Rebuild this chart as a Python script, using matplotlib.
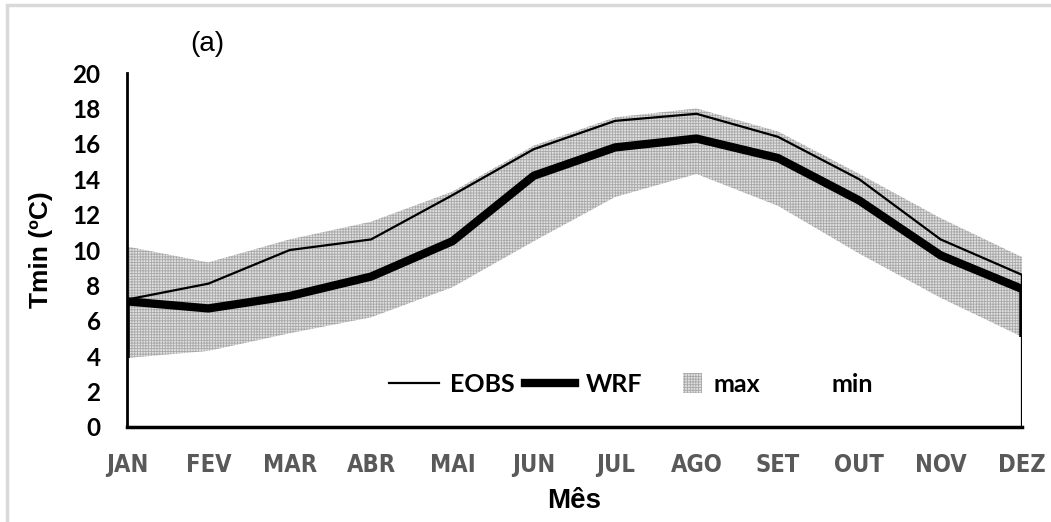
import numpy as np
import matplotlib
matplotlib.use('Agg')
from matplotlib import pyplot as plt
from matplotlib.patches import Rectangle, Patch
from matplotlib.lines import Line2D
from matplotlib.legend_handler import HandlerPatch

meses = ['JAN', 'FEV', 'MAR', 'ABR', 'MAI', 'JUN', 'JUL', 'AGO', 'SET', 'OUT', 'NOV', 'DEZ']
eobs = [7.2, 8.1, 10.0, 10.6, 13.1, 15.7, 17.3, 17.7, 16.4, 14.0, 10.6, 8.6]
wrf = [7.1, 6.7, 7.4, 8.5, 10.5, 14.2, 15.8, 16.3, 15.2, 12.8, 9.7, 7.8]
tmax = [10.2, 9.3, 10.6, 11.6, 13.3, 15.9, 17.5, 18.0, 16.7, 14.3, 11.8, 9.6]
tmin = [3.9, 4.3, 5.3, 6.2, 7.9, 10.5, 13.0, 14.3, 12.5, 9.8, 7.3, 5.1]

x = np.arange(len(meses))

plt.rcParams['hatch.linewidth'] = 0.6

fig = plt.figure(figsize=(10.51, 5.22), dpi=100)
fig.patches.append(Rectangle((0.007, -0.1), 1.1, 1.09, transform=fig.transFigure,
                             fill=False, edgecolor='#d9d9d9', linewidth=2.5))
ax = fig.add_axes([0.1208, 0.182, 0.8516, 0.678])

ax.fill_between(x, tmin, tmax, facecolor='#e0e0e0', edgecolor='#a8a8a8',
                hatch='++++++', linewidth=0, zorder=1)
ax.plot(x, eobs, color='black', linewidth=1.6, zorder=3)
ax.plot(x, wrf, color='black', linewidth=6, zorder=3, solid_joinstyle='round')
ax.vlines(x[0], tmin[0], wrf[0], color='black', linewidth=4, zorder=3)
ax.vlines(x[-1], tmin[-1], wrf[-1], color='black', linewidth=4, zorder=3)
ax.vlines(x[-1], 0, eobs[-1], color='black', linewidth=1.6, zorder=3)

ax.set_xlim(0, 11)
ax.set_ylim(0, 20)
ax.set_yticks(np.arange(0, 21, 2))
ax.set_xticks(x)
ax.set_xticklabels(meses)

for s in ['top', 'right']:
    ax.spines[s].set_visible(False)
ax.spines['left'].set_linewidth(2)
ax.spines['bottom'].set_linewidth(2.5)
ax.tick_params(length=0)
ax.tick_params(axis='y', pad=19)
ax.tick_params(axis='x', pad=19)

for t in ax.get_yticklabels():
    t.set_fontfamily(['Lato', 'DejaVu Sans'])
    t.set_fontweight('bold')
    t.set_fontsize(17.5)
for t in ax.get_xticklabels():
    t.set_fontfamily('DejaVu Sans')
    t.set_fontstretch('condensed')
    t.set_fontweight('bold')
    t.set_fontsize(17)
    t.set_color('#595959')

ax.set_ylabel('Tmin (ºC)', fontsize=19, fontweight='bold', family='Liberation Sans', labelpad=14)
ax.set_xlabel('Mês', fontsize=20, fontweight='bold', family='Liberation Sans', labelpad=8)
fig.text(0.181, 0.915, '(a)', fontsize=20, family='Liberation Sans', ha='left', va='center')


def small_square(legend, orig_handle, xdescent, ydescent, width, height, fontsize):
    s = height * 1.1
    return Rectangle((width - xdescent - s, -ydescent + (height - s) / 2), s, s)


handles = [Line2D([0], [0], color='black', linewidth=1.6),
           Line2D([0], [0], color='black', linewidth=6),
           Patch(facecolor='#e0e0e0', edgecolor='#a8a8a8', hatch='++++++', linewidth=0),
           Patch(facecolor='white', edgecolor='white')]
leg = ax.legend(handles, ['EOBS', 'WRF', 'max', 'min'], ncol=4, frameon=False,
                loc='center', bbox_to_anchor=(0.563, 0.121), handlelength=2.0,
                columnspacing=0.4, handletextpad=0.45,
                handler_map={handles[2]: HandlerPatch(patch_func=small_square)},
                prop={'family': 'Lato', 'weight': 'bold', 'size': 18})

fig.savefig('out.png', dpi=100)
